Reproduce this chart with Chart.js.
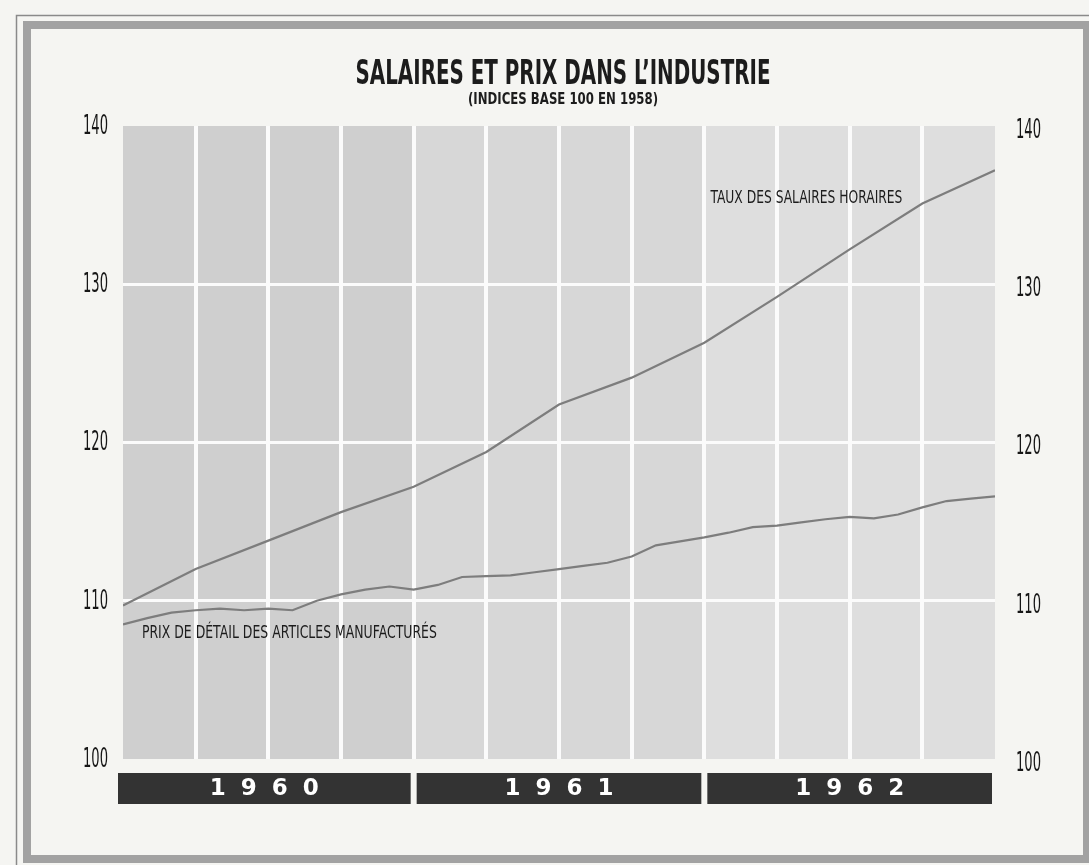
<!DOCTYPE html>
<html>
<head>
<meta charset="utf-8">
<script src="https://cdn.jsdelivr.net/npm/chart.js@4.4.0/dist/chart.umd.min.js"></script>
<style>
html,body{margin:0;padding:0;background:#f5f5f2;}
#wrap{width:1089px;height:865px;position:relative;}
canvas{display:block;}
</style>
</head>
<body>
<div id="wrap"><canvas id="c" width="1089" height="865"></canvas></div>
<script>
// ---- Data ----
const TITLE = 'SALAIRES ET PRIX DANS L\u2019INDUSTRIE';
const SUBTITLE = '(INDICES BASE 100 EN 1958)';
const years = ['1960', '1961', '1962'];
const yTicks = [100, 110, 120, 130, 140];

// Hourly wage rates, quarterly (month index from Jan 1960)
const wageMonths = [0, 3, 6, 9, 12, 15, 18, 21, 24, 27, 30, 33, 36];
const wages = [109.7, 112.0, 113.8, 115.6, 117.2, 119.4, 122.4, 124.1, 126.3, 129.2, 132.2, 135.1, 137.2];

// Retail prices of manufactured goods, monthly
const priceMonths = [0, 1, 2, 3, 4, 5, 6, 7, 8, 9, 10, 11, 12, 13, 14, 15, 16, 17, 18, 19, 20, 21, 22, 23, 24, 25, 26, 27, 28, 29, 30, 31, 32, 33, 34, 35, 36];
const prices = [108.5, 108.9, 109.25, 109.4, 109.5, 109.4, 109.5, 109.4, 110.0, 110.4, 110.7, 110.9, 110.7,
                111.0, 111.5, 111.55, 111.6, 111.8, 112.0, 112.2, 112.4, 112.8, 113.5, 113.75, 114.0,
                114.3, 114.65, 114.75, 114.95, 115.15, 115.3, 115.2, 115.45, 115.9, 116.3, 116.45, 116.6];

const seriesNames = ['TAUX DES SALAIRES HORAIRES', 'PRIX DE D\u00c9TAIL DES ARTICLES MANUFACTUR\u00c9S'];

// ---- Presentation ----
const annotations = [
  { text: seriesNames[0], x: 24.25, y: 135.4, width: 192 },
  { text: seriesNames[1], x: 0.78, y: 107.9, width: 295 }
];
const bandColors = ['#cfcfcf', '#d7d7d7', '#dedede'];
const lineColor = '#7d7d7d';
const FAM = '"DejaVu Sans", sans-serif';

function fitText(ctx, text, x, y, width, align) {
  const w = ctx.measureText(text).width;
  const s = width / w;
  ctx.save();
  ctx.translate(x, y);
  ctx.scale(s, 1);
  ctx.textAlign = align || 'left';
  ctx.fillText(text, 0, 0);
  ctx.restore();
}

const decor = {
  id: 'decor',
  beforeDraw(chart) {
    const ctx = chart.ctx;
    const W = chart.width, H = chart.height;
    ctx.save();
    ctx.fillStyle = '#f5f5f2';
    ctx.fillRect(0, 0, W, H);
    ctx.strokeStyle = '#8a8a8a';
    ctx.lineWidth = 1.5;
    ctx.strokeRect(16.5, 15.5, 1200, 1000);
    ctx.strokeStyle = '#a2a2a2';
    ctx.lineWidth = 8;
    ctx.strokeRect(27, 25, 1060, 834);
    const xs = chart.scales.x;
    const a = chart.chartArea;
    years.forEach((yr, i) => {
      const l = xs.getPixelForValue(i * 12);
      const r = xs.getPixelForValue(i * 12 + 12);
      ctx.fillStyle = bandColors[i];
      ctx.fillRect(l, a.top, r - l, a.bottom - a.top);
    });
    ctx.restore();
  },
  afterDraw(chart) {
    const ctx = chart.ctx;
    const xs = chart.scales.x, ys = chart.scales.y;
    ctx.save();
    ctx.fillStyle = '#1c1c1c';
    ctx.textBaseline = 'middle';
    ctx.font = 'bold 33px ' + FAM;
    fitText(ctx, TITLE, 563, 75, 415, 'center');
    ctx.font = 'bold 15px ' + FAM;
    fitText(ctx, SUBTITLE, 563, 100, 190, 'center');
    ctx.font = '17px ' + FAM;
    annotations.forEach(an => {
      fitText(ctx, an.text, xs.getPixelForValue(an.x), ys.getPixelForValue(an.y), an.width, 'left');
    });
    // condensed axis numbers, placed at the library's tick positions
    ctx.font = '26px ' + FAM;
    ctx.fillStyle = '#161616';
    chart.scales.y.ticks.forEach(t => {
      const py = ys.getPixelForValue(t.value);
      fitText(ctx, String(t.value), 108, py + 1, 25, 'right');
      fitText(ctx, String(t.value), 1016, py + 5, 25, 'left');
    });
    const barTop = 773, barH = 31;
    years.forEach((yr, i) => {
      const l = i === 0 ? xs.getPixelForValue(0) - 5 : xs.getPixelForValue(i * 12) + 3;
      const r = xs.getPixelForValue(i * 12 + 12) - 3;
      ctx.fillStyle = '#333333';
      ctx.fillRect(l, barTop, r - l, barH);
      ctx.fillStyle = '#ffffff';
      ctx.font = 'bold 23px ' + FAM;
      ctx.textAlign = 'center';
      ctx.textBaseline = 'middle';
      const c = (l + r) / 2;
      yr.split('').forEach((ch, k) => {
        ctx.fillText(ch, c + (k - 1.5) * 31, barTop + barH / 2 + 1);
      });
    });
    ctx.restore();
  }
};

new Chart(document.getElementById('c').getContext('2d'), {
  type: 'line',
  data: {
    datasets: [
      {
        label: seriesNames[0],
        data: wageMonths.map((m, i) => ({ x: m, y: wages[i] })),
        borderColor: lineColor, borderWidth: 2.2, pointRadius: 0, tension: 0
      },
      {
        label: seriesNames[1],
        data: priceMonths.map((m, i) => ({ x: m, y: prices[i] })),
        borderColor: lineColor, borderWidth: 2.2, pointRadius: 0, tension: 0
      }
    ]
  },
  options: {
    responsive: false,
    animation: false,
    events: [],
    layout: { padding: { top: 126, bottom: 106, left: 0, right: 0 } },
    plugins: { legend: { display: false }, tooltip: { enabled: false }, title: { display: false } },
    scales: {
      x: {
        type: 'linear', min: 0, max: 36,
        ticks: { display: false, stepSize: 3 },
        grid: {
          color: c => (c.tick && (c.tick.value === 0 || c.tick.value === 36)) ? 'rgba(0,0,0,0)' : '#fbfbfb',
          lineWidth: 4, drawTicks: false
        },
        border: { display: false },
        afterFit: s => { s.height = 0; }
      },
      y: {
        position: 'left', min: 100, max: 140,
        afterBuildTicks: s => { s.ticks = yTicks.map(v => ({ value: v })); },
        ticks: { display: false },
        grid: {
          color: c => (c.tick && (c.tick.value === 100 || c.tick.value === 140)) ? 'rgba(0,0,0,0)' : '#fbfbfb',
          lineWidth: 3, drawTicks: false
        },
        border: { display: false },
        afterFit: s => { s.width = 123; }
      },
      y2: {
        position: 'right', min: 100, max: 140,
        afterBuildTicks: s => { s.ticks = yTicks.map(v => ({ value: v })); },
        ticks: { display: false },
        grid: { display: false, drawTicks: false },
        border: { display: false },
        afterFit: s => { s.width = 94; }
      }
    }
  },
  plugins: [decor]
});
</script>
</body>
</html>
